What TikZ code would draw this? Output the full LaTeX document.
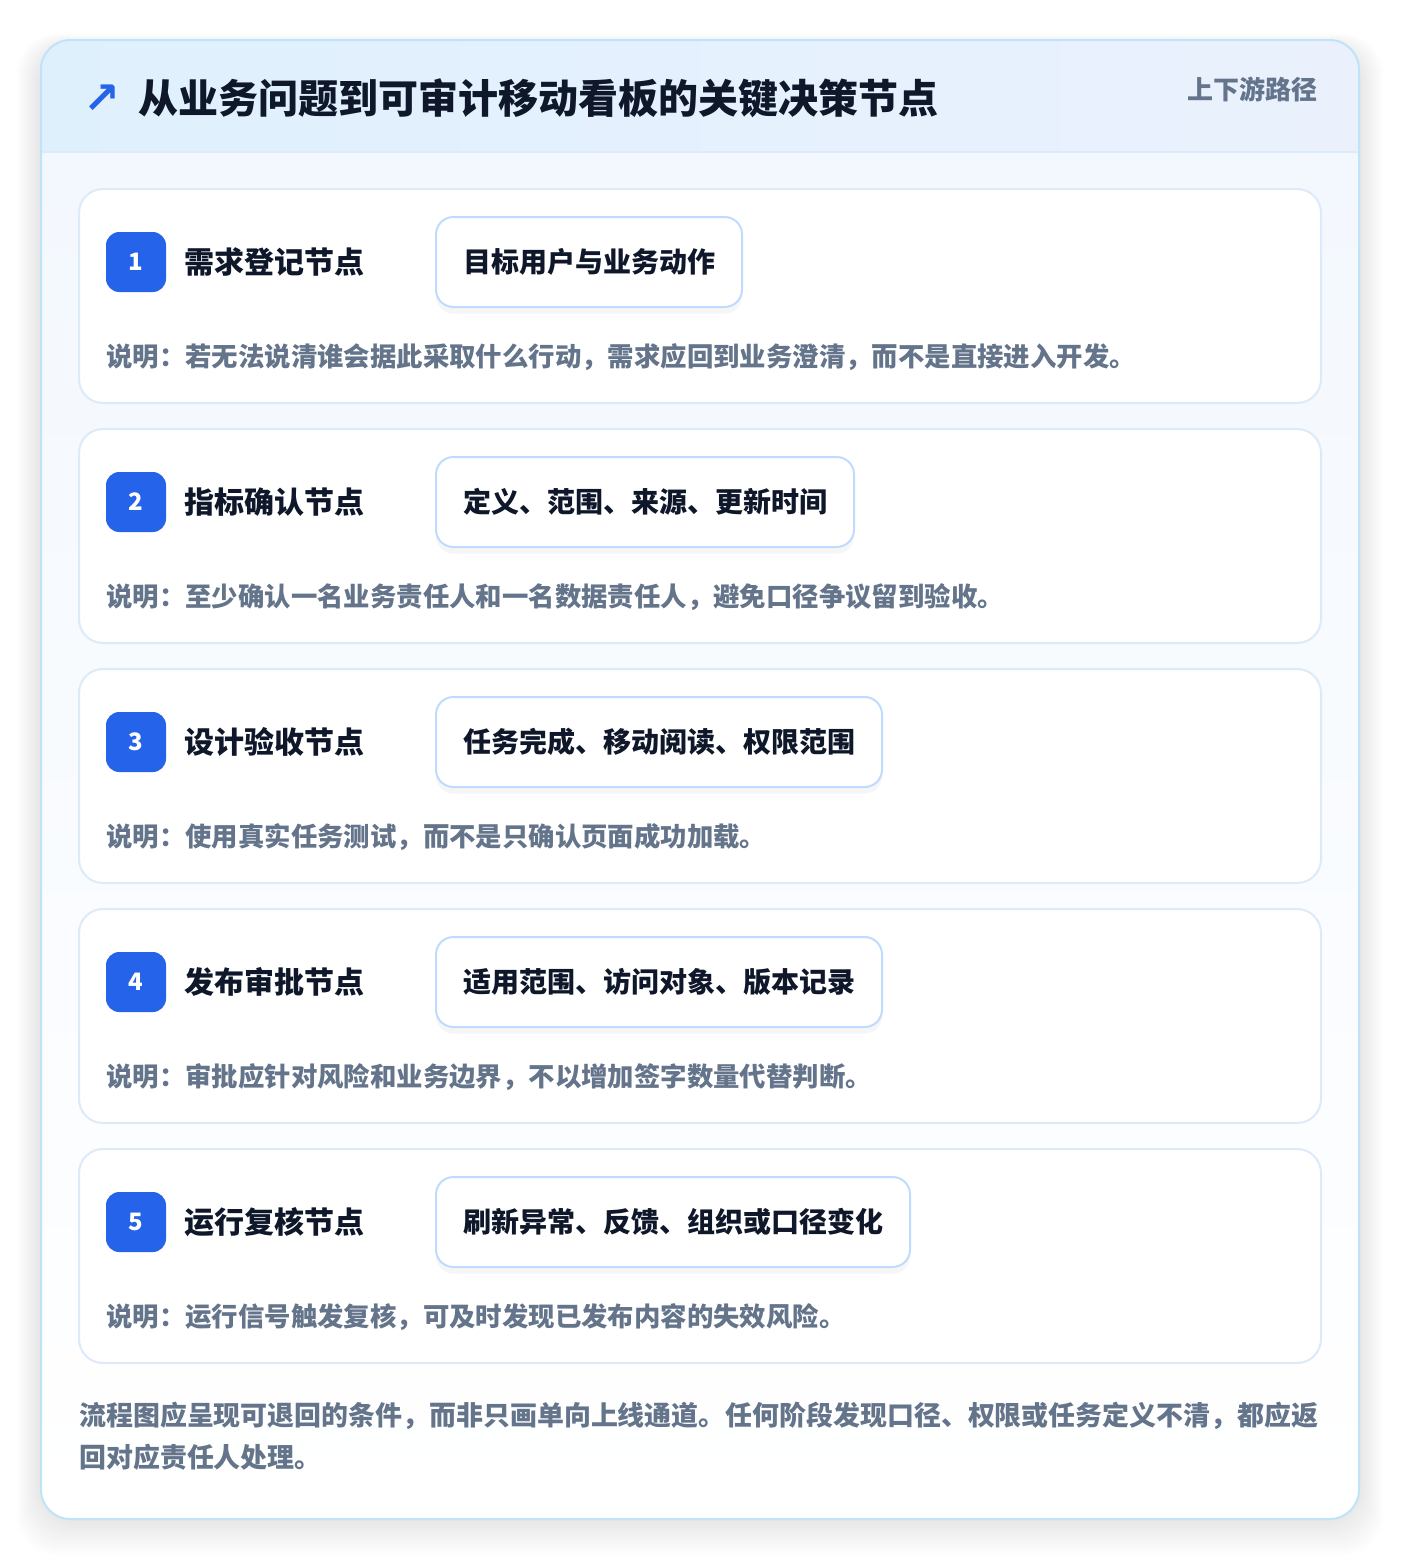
\documentclass[tikz,border=0pt]{standalone}
\usepackage{fontspec}
\setmainfont{Noto Sans CJK SC}
\newfontfamily\symfont{DejaVu Sans}
\usetikzlibrary{shadows}
\definecolor{brandblue}{HTML}{2563EB}
\definecolor{ink}{HTML}{0F172A}
\definecolor{slate}{HTML}{64748B}
\definecolor{frameline}{HTML}{BFE3F8}
\definecolor{cardline}{HTML}{DCEAFA}
\definecolor{tagline}{HTML}{BFDBFE}
\definecolor{headleft}{HTML}{DFF0FD}
\definecolor{headright}{HTML}{EAF1FD}
\definecolor{bodytop}{HTML}{F3F8FE}
\tikzset{
  stepcard/.style={draw=cardline, line width=1.5pt, fill=white, rounded corners=18pt,
    minimum width=931.5pt, minimum height=160.5pt, inner sep=0pt},
  badge/.style={fill=brandblue, text=white, rounded corners=10pt, minimum size=45pt,
    inner sep=0pt, font=\fontsize{18}{18}\selectfont\bfseries},
  stepname/.style={anchor=west, inner sep=0pt, text=ink, font=\fontsize{22.5}{22.5}\selectfont\bfseries},
  tagbox/.style={anchor=west, draw=tagline, line width=1.5pt, fill=white, rounded corners=13pt,
    minimum height=67.5pt, inner xsep=20.25pt, text=ink, font=\fontsize{21}{21}\selectfont\bfseries,
    drop shadow={opacity=0.07, shadow xshift=0pt, shadow yshift=-5pt}},
  stepnote/.style={anchor=west, inner sep=0pt, text=slate, font=\fontsize{19.8}{19.8}\selectfont\bfseries}
}
\begin{document}
\begin{tikzpicture}[x=0.75pt,y=-0.75pt]
\useasboundingbox (0,0) rectangle (1400,1560);
\fill[white] (0,0) rectangle (1400,1560);
\foreach \i in {1,...,12}
  \fill[black, opacity=0.007, rounded corners=30pt] (41-2*\i,46-\i) rectangle (1359+2*\i,1519+3*\i);
\fill[bodytop, rounded corners=22pt] (41,40) rectangle (1359,1519);
\begin{scope}
\clip[rounded corners=22pt] (41,40) rectangle (1359,1519);
\shade[top color=bodytop, bottom color=white] (41,152) rectangle (1359,1519);
\shade[left color=headleft, right color=headright] (41,40) rectangle (1359,152);
\draw[cardline, line width=1.5pt] (41,152) -- (1359,152);
\end{scope}
\draw[frameline, line width=1.5pt, rounded corners=22pt] (41,40) rectangle (1359,1519);

\node[text=brandblue, inner sep=0pt, font=\fontsize{33}{33}\selectfont\symfont\bfseries] at (102,99) (icon) {↗};
\node[anchor=west, inner sep=0pt, text=ink, font=\fontsize{30}{30}\selectfont\bfseries] at (138,98) (title) {从业务问题到可审计移动看板的关键决策节点};
\node[anchor=east, inner sep=0pt, text=slate, font=\fontsize{19.5}{19.5}\selectfont\bfseries] at (1318,89) (route) {上下游路径};

\node[stepcard] at (700,296) (card1) {};
\node[badge] at (136,262) (badge1) {1};
\node[stepname] at (184,262) (name1) {需求登记节点};
\node[tagbox] at (435,262) (tag1) {目标用户与业务动作};
\node[stepnote] at (106,357) (note1) {说明：若无法说清谁会据此采取什么行动，需求应回到业务澄清，而不是直接进入开发。};

\node[stepcard] at (700,536) (card2) {};
\node[badge] at (136,502) (badge2) {2};
\node[stepname] at (184,502) (name2) {指标确认节点};
\node[tagbox] at (435,502) (tag2) {定义、范围、来源、更新时间};
\node[stepnote] at (106,597) (note2) {说明：至少确认一名业务责任人和一名数据责任人，避免口径争议留到验收。};

\node[stepcard] at (700,776) (card3) {};
\node[badge] at (136,742) (badge3) {3};
\node[stepname] at (184,742) (name3) {设计验收节点};
\node[tagbox] at (435,742) (tag3) {任务完成、移动阅读、权限范围};
\node[stepnote] at (106,837) (note3) {说明：使用真实任务测试，而不是只确认页面成功加载。};

\node[stepcard] at (700,1016) (card4) {};
\node[badge] at (136,982) (badge4) {4};
\node[stepname] at (184,982) (name4) {发布审批节点};
\node[tagbox] at (435,982) (tag4) {适用范围、访问对象、版本记录};
\node[stepnote] at (106,1077) (note4) {说明：审批应针对风险和业务边界，不以增加签字数量代替判断。};

\node[stepcard] at (700,1256) (card5) {};
\node[badge] at (136,1222) (badge5) {5};
\node[stepname] at (184,1222) (name5) {运行复核节点};
\node[tagbox] at (435,1222) (tag5) {刷新异常、反馈、组织或口径变化};
\node[stepnote] at (106,1317) (note5) {说明：运行信号触发复核，可及时发现已发布内容的失效风险。};

\node[anchor=west, inner sep=0pt, align=left, text=slate, font=\fontsize{20.2}{31.5}\selectfont\bfseries] at (79,1436) (summary) {流程图应呈现可退回的条件，而非只画单向上线通道。任何阶段发现口径、权限或任务定义不清，都应返\\回对应责任人处理。};
\end{tikzpicture}
\end{document}
